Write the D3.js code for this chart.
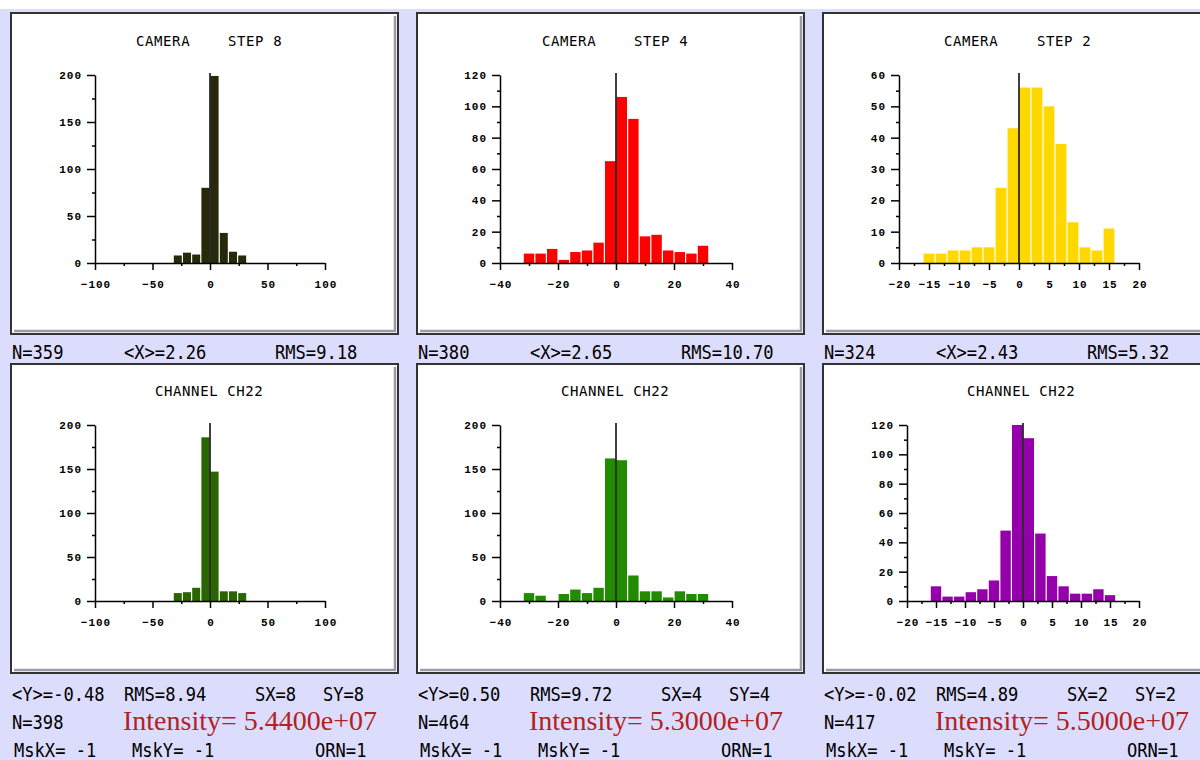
<!DOCTYPE html>
<html>
<head>
<meta charset="utf-8">
<script src="https://cdn.jsdelivr.net/npm/d3@7"></script>
<style>
  body { margin:0; background:#fff; }
  #canvas { width:1200px; height:760px; overflow:hidden; }
  .tick text { font-family:"Liberation Mono", monospace; font-weight:bold; font-size:11px; letter-spacing:1px; fill:#000; }
  .domain, .tick line { stroke:#000; stroke-width:1.5; }
  .stat { font-family:"DejaVu Sans Mono", monospace; font-size:19px; fill:#000; }
  .title { font-family:"DejaVu Sans Mono", monospace; font-size:14px; letter-spacing:0.6px; fill:#000; }
  .intens { font-family:"Liberation Serif", serif; font-size:28px; fill:#b22222; }
</style>
</head>
<body>
<div id="canvas"></div>
<script>
// histogram contents, one array per panel
var titlesA = ['CAMERA', 'CAMERA', 'CAMERA', 'CHANNEL CH22', 'CHANNEL CH22', 'CHANNEL CH22'];
var titlesB = ['STEP 8', 'STEP 4', 'STEP 2', '', '', ''];
var colors = ['#28280a', '#ff0000', '#ffd800', '#2a6600', '#228c00', '#9400aa'];

var binStart = [-32, -32, -16, -32, -32, -16];
var binWidth = [8, 4, 2, 8, 4, 2];

var step8 = [8, 11, 9, 80, 199, 32, 12, 8];
var step4 = [6, 6, 9, 2, 7, 8, 13, 65, 106, 92, 17, 18, 8, 7, 6, 11];
var step2 = [3, 3, 4, 4, 5, 5, 24, 43, 56, 56, 50, 38, 13, 5, 4, 11];
var ch22sx8 = [9, 10, 15, 186, 147, 11, 11, 9];
var ch22sx4 = [9, 6, 0, 8, 13, 9, 15, 162, 160, 29, 11, 11, 4, 11, 8, 8];
var ch22sx2 = [10, 3, 3, 6, 8, 14, 48, 120, 111, 46, 17, 10, 5, 5, 8, 4];
var counts = [step8, step4, step2, ch22sx8, ch22sx4, ch22sx2];

var xMax = [100, 40, 20, 100, 40, 20];
var yMax = [200, 120, 60, 200, 200, 120];
var xMajor = [[-100,-50,0,50,100], [-40,-20,0,20,40], [-20,-15,-10,-5,0,5,10,15,20],
              [-100,-50,0,50,100], [-40,-20,0,20,40], [-20,-15,-10,-5,0,5,10,15,20]];
var xMinor = [[-75,-25,25,75], [-30,-10,10,30], [-17.5,-12.5,-7.5,-2.5,2.5,7.5,12.5,17.5],
              [-75,-25,25,75], [-30,-10,10,30], [-17.5,-12.5,-7.5,-2.5,2.5,7.5,12.5,17.5]];
var yMajor = [[0,50,100,150,200], [0,20,40,60,80,100,120], [0,10,20,30,40,50,60],
              [0,50,100,150,200], [0,50,100,150,200], [0,20,40,60,80,100,120]];
var yMinor = [[25,75,125,175], [10,30,50,70,90,110], [5,15,25,35,45,55],
              [25,75,125,175], [25,75,125,175], [10,30,50,70,90,110]];

// stats text
var statN = ['N=359', 'N=380', 'N=324', 'N=398', 'N=464', 'N=417'];
var statMean = ['<X>=2.26', '<X>=2.65', '<X>=2.43', '<Y>=-0.48', '<Y>=0.50', '<Y>=-0.02'];
var statRms = ['RMS=9.18', 'RMS=10.70', 'RMS=5.32', 'RMS=8.94', 'RMS=9.72', 'RMS=4.89'];
var statSX = ['', '', '', 'SX=8', 'SX=4', 'SX=2'];
var statSY = ['', '', '', 'SY=8', 'SY=4', 'SY=2'];
var intensity = ['', '', '', 'Intensity= 5.4400e+07', 'Intensity= 5.3000e+07', 'Intensity= 5.5000e+07'];

var svg = d3.select('#canvas').append('svg')
    .attr('width', 1200).attr('height', 760);

svg.append('rect').attr('x', 0).attr('y', 9).attr('width', 1200).attr('height', 751)
    .style('fill', '#dcdcfc');

// panel geometry
var frameX = [11, 417, 823, 11, 417, 823];
var frameY = [13, 13, 13, 364, 364, 364];
var frameH = [321, 321, 321, 309, 309, 309];
var axL = [95, 500, 899, 95, 500, 907];
var axR = [325, 732, 1139, 325, 732, 1139];

for (var i = 0; i < 6; i++) drawPanel(i);

// narrow, tall text like the original terminal font
function stat(x, y, s){
    svg.append('text').attr('class', 'stat')
        .attr('transform', 'translate(' + x + ',' + y + ') scale(0.9,1)')
        .text(s);
}

function drawPanel(i){
    var fx = frameX[i], fy = frameY[i], fw = 387, fh = frameH[i];
    var top = i < 3;
    var y0 = top ? 263 : 601, y1 = top ? 75 : 425;

    // frame with bevel
    svg.append('rect').attr('x', fx).attr('y', fy).attr('width', fw).attr('height', fh)
        .style('fill', '#fff').style('stroke', '#333').style('stroke-width', 2);
    svg.append('polyline')
        .attr('points', (fx+fw-3)+','+(fy+3)+' '+(fx+fw-3)+','+(fy+fh-3)+' '+(fx+3)+','+(fy+fh-3))
        .style('fill', 'none').style('stroke', '#9a9aa8').style('stroke-width', 2.5);

    var x = d3.scaleLinear().domain([-xMax[i], xMax[i]]).range([axL[i], axR[i]]);
    var y = d3.scaleLinear().domain([0, yMax[i]]).range([y0, y1]);

    // bars
    var bins = counts[i].map(function(c, k){
        return {lo: binStart[i] + k*binWidth[i], hi: binStart[i] + (k+1)*binWidth[i], n: c};
    });
    svg.append('g').selectAll('rect').data(bins.filter(function(b){ return b.n > 0; }))
        .enter().append('rect')
        .attr('x', function(b){ return x(b.lo) + 0.6; })
        .attr('width', function(b){ return x(b.hi) - x(b.lo) - 1.2; })
        .attr('y', function(b){ return y(b.n); })
        .attr('height', function(b){ return y(0) - y(b.n); })
        .style('fill', colors[i]);

    // zero line
    svg.append('line').attr('x1', x(0)).attr('x2', x(0)).attr('y1', y(0)).attr('y2', y(yMax[i]) - 2)
        .style('stroke', '#000').style('stroke-width', 1.5);

    // axes
    svg.append('g').attr('transform', 'translate(0,' + y0 + ')')
        .call(d3.axisBottom(x).tickValues(xMajor[i]).tickSize(7).tickSizeOuter(0).tickPadding(10)
            .tickFormat(d3.format('d')))
        .selectAll('text').attr('dx', '0.5px');
    svg.append('g').attr('transform', 'translate(0,' + y0 + ')')
        .call(d3.axisBottom(x).tickValues(xMinor[i]).tickSize(3).tickSizeOuter(0).tickFormat(''))
        .select('.domain').remove();
    svg.append('g').attr('transform', 'translate(' + axL[i] + ',0)')
        .call(d3.axisLeft(y).tickValues(yMajor[i]).tickSize(8).tickSizeOuter(0).tickPadding(5)
            .tickFormat(d3.format('d')));
    svg.append('g').attr('transform', 'translate(' + axL[i] + ',0)')
        .call(d3.axisLeft(y).tickValues(yMinor[i]).tickSize(3).tickSizeOuter(0).tickFormat(''))
        .select('.domain').remove();

    // title
    if (top) {
        svg.append('text').attr('class', 'title').attr('x', fx + (i == 2 ? 121 : 125)).attr('y', 46).text(titlesA[i]);
        svg.append('text').attr('class', 'title').attr('x', fx + (i == 2 ? 214 : 217)).attr('y', 46).text(titlesB[i]);
    } else {
        svg.append('text').attr('class', 'title').attr('x', fx + 144).attr('y', 396).text(titlesA[i]);
    }

    // stats below the frame
    if (top) {
        stat(fx + 1, 359, statN[i]);
        stat(fx + 113, 359, statMean[i]);
        stat(fx + 264, 359, statRms[i]);
    } else {
        stat(fx + 1, 701, statMean[i]);
        stat(fx + 113, 701, statRms[i]);
        stat(fx + 244, 701, statSX[i]);
        stat(fx + 312, 701, statSY[i]);
        stat(fx + 1, 729, statN[i]);
        svg.append('text').attr('class', 'intens').attr('x', fx + 112).attr('y', 730).text(intensity[i]);
        stat(fx + 3, 757, 'MskX= -1');
        stat(fx + 121, 757, 'MskY= -1');
        stat(fx + 304, 757, 'ORN=1');
    }
}
</script>
</body>
</html>
